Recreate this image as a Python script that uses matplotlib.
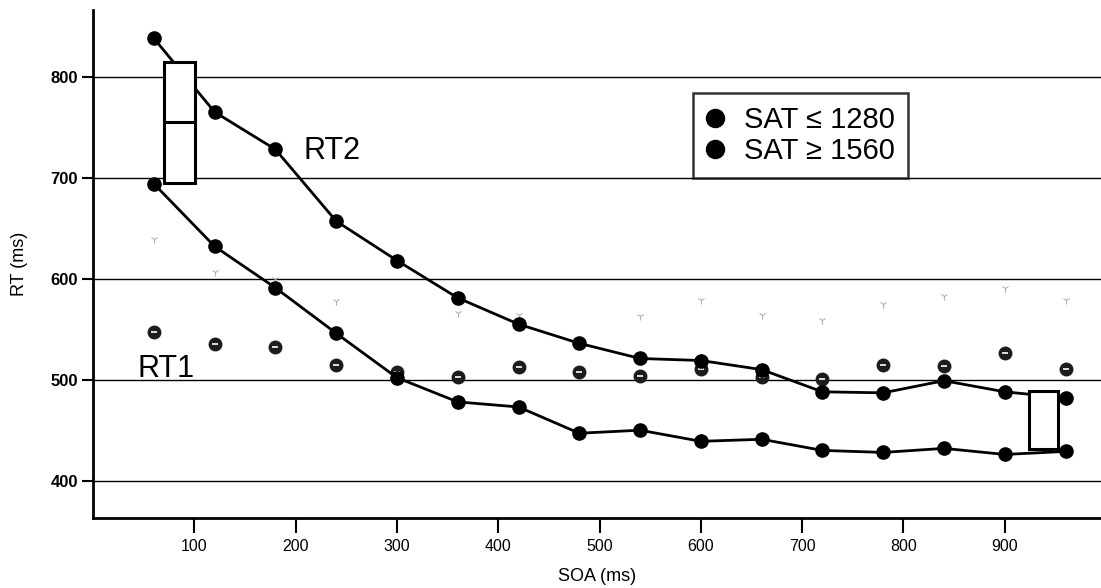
import matplotlib
matplotlib.use("Agg")
import matplotlib.pyplot as plt
from matplotlib.lines import Line2D
from matplotlib.patches import Rectangle
import numpy as np

plt.rcParams['font.family'] = ['Liberation Sans', 'DejaVu Sans']

# SOA levels (ms)
soa = [60, 120, 180, 240, 300, 360, 420, 480, 540, 600, 660, 720, 780, 840, 900, 960]

# RT2 for the two SAT groups
rt2_low = [838, 765, 728, 657, 618, 581, 555, 536, 521, 519, 510, 488, 487, 499, 488, 482]
rt2_high = [694, 632, 591, 546, 502, 478, 473, 447, 450, 439, 441, 430, 428, 432, 426, 429]

# RT1 for the two SAT groups (the low group prints very faintly)
rt1_high = [547, 535, 532, 515, 508, 503, 513, 508, 504, 511, 503, 501, 515, 514, 526, 511]
rt1_low = [639, 607, 600, 578, np.nan, 566, 564, np.nan, 563, 579, 564, 559, 575, 583, 591, 579]

# boxes: (x0, x1, y0, y1, middle line or None)
boxes = [(70, 101, 695, 815, 755), (924, 953, 431, 489, None)]

yticks = [400, 500, 600, 700, 800]
xticks = [100, 200, 300, 400, 500, 600, 700, 800, 900]

fig = plt.figure(figsize=(11.01, 5.88), dpi=100)
ax = fig.add_axes([0.0845, 0.1196, 0.9155, 0.8634])
ax.set_xlim(0, 995)
ax.set_ylim(363.4, 866)

for y in yticks:
    ax.axhline(y, color='black', lw=1.0, zorder=1)

ax.plot(soa, rt1_low, linestyle='none', marker='1', ms=6, mew=0.8,
        color='#b0b0b0', zorder=2)
ax.plot(soa, rt1_high, linestyle='none', marker='o', ms=9, color='#1c1c1c',
        mec='#1c1c1c', zorder=3)
ax.plot(soa, rt1_high, linestyle='none', marker='_', ms=5, mew=1.2,
        color='white', zorder=3.5)

ax.plot(soa, rt2_low, color='black', lw=2, marker='o', ms=9.5, zorder=4)
ax.plot(soa, rt2_high, color='black', lw=2, marker='o', ms=9.5, zorder=4)

for x0, x1, y0, y1, mid in boxes:
    ax.add_patch(Rectangle((x0, y0), x1 - x0, y1 - y0, facecolor='white',
                           edgecolor='black', lw=2.2, zorder=5))
    if mid is not None:
        ax.plot([x0, x1], [mid, mid], color='black', lw=2.2, zorder=6)

ax.text(208, 718, 'RT2', fontsize=22, ha='left', va='baseline', zorder=7)
ax.text(44, 503, 'RT1', fontsize=22, ha='left', va='baseline', zorder=7)

handles = [Line2D([], [], linestyle='none', marker='o', ms=13, color='black'),
           Line2D([], [], linestyle='none', marker='o', ms=13, color='black')]
leg = ax.legend(handles, ['SAT \u2264 1280', 'SAT \u2265 1560'],
                loc='upper left', bbox_to_anchor=(0.595, 0.836),
                borderaxespad=0, fontsize=21, frameon=True, fancybox=False,
                handlelength=0.6, handletextpad=0.7, borderpad=0.45,
                labelspacing=0.1)
leg.get_frame().set_edgecolor('black')
leg.get_frame().set_linewidth(1.8)
leg.set_zorder(8)

ax.spines['top'].set_visible(False)
ax.spines['right'].set_visible(False)
ax.spines['left'].set_linewidth(2)
ax.spines['bottom'].set_linewidth(2)

ax.set_xticks(xticks)
ax.set_yticks(yticks)
ax.tick_params(axis='x', length=10.5, width=1.5, pad=5, labelsize=11.5)
ax.tick_params(axis='y', length=8, width=1.5, pad=3, labelsize=12)
for lab in ax.get_yticklabels():
    lab.set_fontweight('bold')

ax.set_xlabel('SOA (ms)', fontsize=13, labelpad=10)
ax.set_ylabel('RT (ms)', fontsize=13, labelpad=16)

fig.savefig('out.png', dpi=100)
